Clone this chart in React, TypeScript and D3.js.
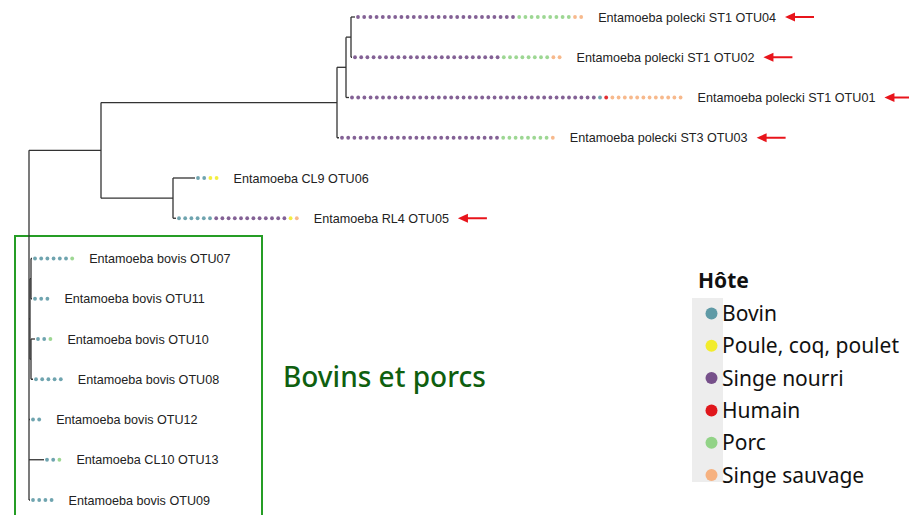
import React, { useEffect, useRef } from "react";
import * as d3 from "d3";

// ---------- data ----------
const hosts = ["Bovin", "Poule, coq, poulet", "Singe nourri", "Humain", "Porc", "Singe sauvage"];
const hostColors = ["#5f9aa6", "#f2ec2c", "#76508a", "#e0171c", "#92d387", "#f6b17f"];

// tree (branch lengths)
type TNode = { name: string; length: number; children?: TNode[] };
const tree: TNode = {
  name: "root", length: 0, children: [
    { name: "D", length: 72, children: [
      { name: "A", length: 236, children: [
        { name: "B", length: 9, children: [
          { name: "C", length: 5, children: [
            { name: "OTU04", length: 4 },
            { name: "OTU02", length: 1 },
          ] },
          { name: "OTU01", length: 3 },
        ] },
        { name: "OTU03", length: 2 },
      ] },
      { name: "E", length: 72, children: [
        { name: "OTU06", length: 22 },
        { name: "OTU05", length: 3 },
      ] },
    ] },
    { name: "G1", length: 1, children: [
      { name: "G2", length: 1, children: [
        { name: "OTU07", length: 1 },
        { name: "OTU11", length: 1 },
      ] },
      { name: "G3", length: 1, children: [
        { name: "OTU10", length: 4 },
        { name: "OTU08", length: 2 },
      ] },
    ] },
    { name: "OTU12", length: 1 },
    { name: "OTU13", length: 15 },
    { name: "OTU09", length: 1 },
  ],
};

const leafLabels: Record<string, string> = {
  OTU04: "Entamoeba polecki ST1 OTU04",
  OTU02: "Entamoeba polecki ST1 OTU02",
  OTU01: "Entamoeba polecki ST1 OTU01",
  OTU03: "Entamoeba polecki ST3 OTU03",
  OTU06: "Entamoeba CL9 OTU06",
  OTU05: "Entamoeba RL4 OTU05",
  OTU07: "Entamoeba bovis OTU07",
  OTU11: "Entamoeba bovis OTU11",
  OTU10: "Entamoeba bovis OTU10",
  OTU08: "Entamoeba bovis OTU08",
  OTU12: "Entamoeba bovis OTU12",
  OTU13: "Entamoeba CL10 OTU13",
  OTU09: "Entamoeba bovis OTU09",
};

// host runs per leaf: [hostIndex, count]
const leafRuns: Record<string, [number, number][]> = {
  OTU04: [[2, 26], [4, 9], [5, 2]],
  OTU02: [[2, 24], [4, 8], [5, 2]],
  OTU01: [[2, 40], [0, 1], [3, 1], [5, 12]],
  OTU03: [[2, 26], [4, 8], [5, 1]],
  OTU06: [[0, 2], [1, 2]],
  OTU05: [[0, 6], [2, 12], [1, 1], [5, 1]],
  OTU07: [[0, 6], [4, 1]],
  OTU11: [[0, 3]],
  OTU10: [[0, 2], [4, 1]],
  OTU08: [[0, 5]],
  OTU12: [[0, 2]],
  OTU13: [[0, 2], [4, 1]],
  OTU09: [[0, 4]],
};

const arrowLeaves = ["OTU04", "OTU02", "OTU01", "OTU03", "OTU05"];
const legendTitle = "Hôte";
const boxLabel = "Bovins et porcs";

export default function App() {
  const ref = useRef<SVGSVGElement>(null);

  useEffect(() => {
    const svg = d3.select(ref.current);
    svg.selectAll("*").remove();

    const root = d3.hierarchy(tree);
    const leaves = root.leaves();
    const x = d3.scaleLinear().domain([0, 330]).range([29, 359]);
    const y = d3.scaleLinear().domain([0, leaves.length - 1]).range([17, 500]);

    const dist = new Map<any, number>();
    root.eachBefore((n: any) => {
      dist.set(n, n.parent ? dist.get(n.parent)! + n.data.length : 0);
    });
    const ypos = new Map<any, number>();
    leaves.forEach((l, i) => ypos.set(l, y(i)));
    root.eachAfter((n: any) => {
      if (n.children) {
        const c = n.children;
        ypos.set(n, (ypos.get(c[0])! + ypos.get(c[c.length - 1])!) / 2);
      }
    });

    // green box
    svg.append("rect")
      .attr("x", 15).attr("y", 236).attr("width", 247).attr("height", 300)
      .attr("fill", "none").attr("stroke", "#259d25").attr("stroke-width", 2);

    const g = svg.append("g");
    const lineColor = "#333";
    root.descendants().forEach((n: any) => {
      if (n.parent) {
        g.append("line")
          .attr("x1", x(dist.get(n.parent)!)).attr("x2", x(dist.get(n)!))
          .attr("y1", ypos.get(n)!).attr("y2", ypos.get(n)!)
          .attr("stroke", lineColor).attr("stroke-width", 1.3);
      }
      if (n.children) {
        const ys = n.children.map((c: any) => ypos.get(c)!);
        g.append("line")
          .attr("x1", x(dist.get(n)!)).attr("x2", x(dist.get(n)!))
          .attr("y1", d3.min(ys)!).attr("y2", d3.max(ys)!)
          .attr("stroke", lineColor).attr("stroke-width", 1.3);
      }
    });

    const step = 6.2;
    const dotOffset = 3;
    const labelGap = 17;
    leaves.forEach((l: any) => {
      const name = l.data.name;
      const yy = ypos.get(l)!;
      const cx = x(dist.get(l)!) + dotOffset;
      const seq: number[] = [];
      leafRuns[name].forEach(([h, c]) => { for (let k = 0; k < c; k++) seq.push(h); });
      seq.forEach((h, i) => {
        g.append("circle")
          .attr("cx", cx + i * step).attr("cy", yy).attr("r", 1.9)
          .attr("fill", hostColors[h]).attr("opacity", 0.9);
      });
      const lastX = cx + (seq.length - 1) * step;
      const t = g.append("text")
        .attr("x", lastX + labelGap).attr("y", yy).attr("dy", "0.36em")
        .attr("font-family", "'Liberation Sans', Arial, sans-serif")
        .attr("font-size", 12.6).attr("fill", "#222")
        .text(leafLabels[name]);
      if (arrowLeaves.includes(name)) {
        const w = (t.node() as SVGTextElement).getComputedTextLength();
        const ax = lastX + labelGap + w + 9;
        g.append("line")
          .attr("x1", ax + 6).attr("x2", ax + 29).attr("y1", yy).attr("y2", yy)
          .attr("stroke", "#e8141b").attr("stroke-width", 2);
        g.append("path")
          .attr("d", `M${ax},${yy} L${ax + 10},${yy - 4.5} L${ax + 10},${yy + 4.5} Z`)
          .attr("fill", "#e8141b");
      }
    });

    // box label
    svg.append("text")
      .attr("x", 283).attr("y", 387)
      .attr("font-family", "'Noto Sans', 'Open Sans', sans-serif")
      .attr("font-size", 28).attr("font-weight", 500).attr("fill", "#0f5f0f")
      .text(boxLabel);

    // legend
    const lg = svg.append("g");
    lg.append("rect").attr("x", 692).attr("y", 298).attr("width", 31).attr("height", 184)
      .attr("fill", "#ededed");
    lg.append("text").attr("x", 698).attr("y", 288)
      .attr("font-family", "'Noto Sans', sans-serif").attr("font-size", 21)
      .attr("font-weight", 700).attr("fill", "#111").text(legendTitle);
    const ly = d3.scaleLinear().domain([0, hosts.length - 1]).range([313.5, 475]);
    hosts.forEach((h, i) => {
      lg.append("circle").attr("cx", 711.5).attr("cy", ly(i)).attr("r", 6)
        .attr("fill", hostColors[i]);
      lg.append("text").attr("x", 722).attr("y", ly(i) + 7.5)
        .attr("font-family", "'Noto Sans', sans-serif").attr("font-size", 21)
        .attr("fill", "#111").text(h);
    });
  }, []);

  return (
    <svg ref={ref} width={909} height={515}
      style={{ position: "absolute", left: 0, top: 0, background: "#fff" }} />
  );
}
